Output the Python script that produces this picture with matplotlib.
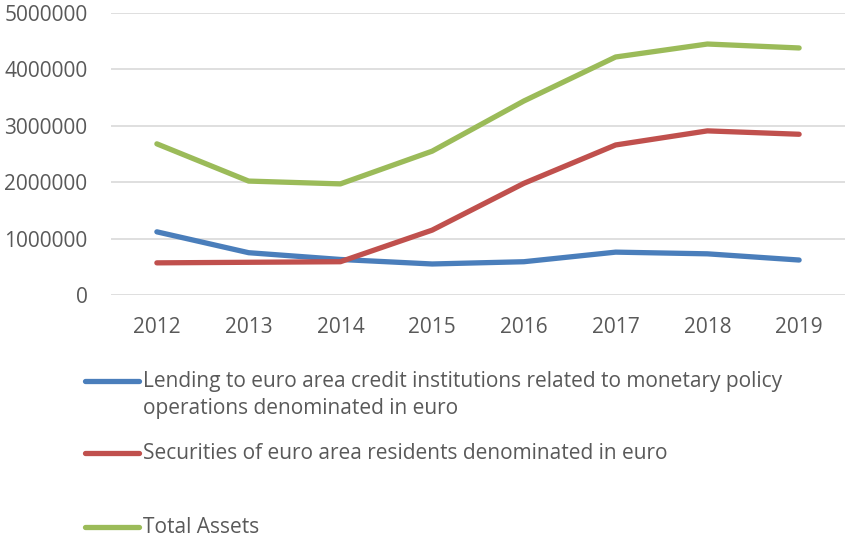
import matplotlib
matplotlib.use("Agg")
import matplotlib.pyplot as plt
from matplotlib.lines import Line2D
from matplotlib.ticker import FuncFormatter

plt.rcParams['font.family'] = ['Open Sans', 'DejaVu Sans']

years = ["2012", "2013", "2014", "2015", "2016", "2017", "2018", "2019"]
lending = [1120000, 750000, 630000, 550000, 590000, 760000, 730000, 620000]
securities = [570000, 580000, 590000, 1150000, 1980000, 2660000, 2910000, 2850000]
total_assets = [2680000, 2020000, 1970000, 2550000, 3440000, 4220000, 4450000, 4380000]

labels = ["Lending to euro area credit institutions related to monetary policy\noperations denominated in euro",
          "Securities of euro area residents denominated in euro",
          "Total Assets"]
colors = ["#4A7EBB", "#C0504D", "#9BBB59"]
series = [lending, securities, total_assets]

W, H = 850, 539
fig = plt.figure(figsize=(W / 100, H / 100), dpi=100)
ax = fig.add_axes([111 / W, 1 - 295 / H, (845 - 111) / W, (295 - 13) / H])

x = list(range(len(years)))
for vals, c in zip(series, colors):
    ax.plot(x, vals, color=c, lw=3.8, solid_capstyle='round', zorder=3)

ax.set_xlim(-0.5, len(years) - 0.5)
ax.set_ylim(0, 5000000)
ax.set_yticks(range(0, 5000001, 1000000))
ax.yaxis.set_major_formatter(FuncFormatter(lambda v, p: f"{int(v)}"))
ax.set_xticks(x)
ax.set_xticklabels(years)
ax.grid(axis='y', color='#D9D9D9', lw=1.2, zorder=0)
for s in ax.spines.values():
    s.set_visible(False)
ax.tick_params(axis='both', length=0, labelsize=15, colors='#595959')
ax.tick_params(axis='y', pad=17)
ax.tick_params(axis='x', pad=16)

# legend (manual, Excel-like layout)
leg_y = [381, 453, 527]
line_gap = 27
for lab, c, yy in zip(labels, colors, leg_y):
    fy = 1 - yy / H
    fig.add_artist(Line2D([85 / W, 139 / W], [fy, fy], color=c, lw=3.8,
                          solid_capstyle='round', transform=fig.transFigure))
    for i, part in enumerate(lab.split("\n")):
        fig.text(143 / W, 1 - (yy + 6 + i * line_gap) / H, part, ha='left',
                 va='baseline', fontsize=15, color='#595959')

fig.savefig("out.png", dpi=100)
